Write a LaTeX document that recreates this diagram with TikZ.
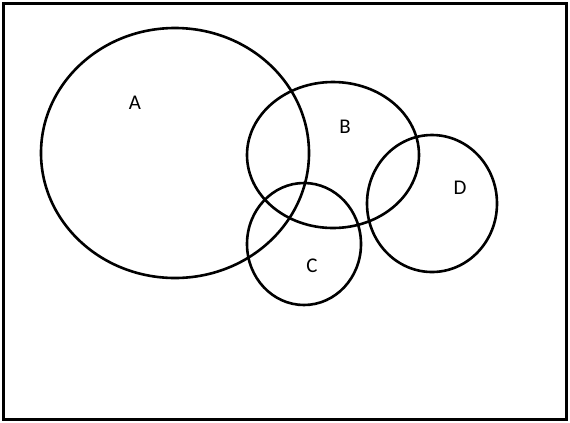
\documentclass[tikz,border=0pt]{standalone}
\usepackage{fontspec}
\setmainfont{Carlito}
\usetikzlibrary{positioning}

\begin{document}
\begin{tikzpicture}[x=1bp,y=-1bp,
    setline/.style={draw=black, line width=2.6bp},
    setlabel/.style={font=\fontsize{21}{24}\selectfont, inner sep=0pt}]
        \useasboundingbox (0,0) rectangle (570,422);
        % Frame
        \draw[line width=3bp] (3.5,3.5) rectangle (566.5,419.5);

        % Sets
        \draw[setline] (175,153) ellipse [x radius=134, y radius=125];
        \draw[setline] (333,155) ellipse [x radius=86, y radius=73];
        \draw[setline] (304,244) ellipse [x radius=57, y radius=61];
        \draw[setline] (432,203.5) ellipse [x radius=65, y radius=68.5];

        % Labels
        \node[setlabel] (labelA) at (135,103) {A};
        \node[setlabel] (labelB) at (345,127) {B};
        \node[setlabel] (labelC) at (312,266) {C};
        \node[setlabel] (labelD) at (460,188) {D};
\end{tikzpicture}
\end{document}
